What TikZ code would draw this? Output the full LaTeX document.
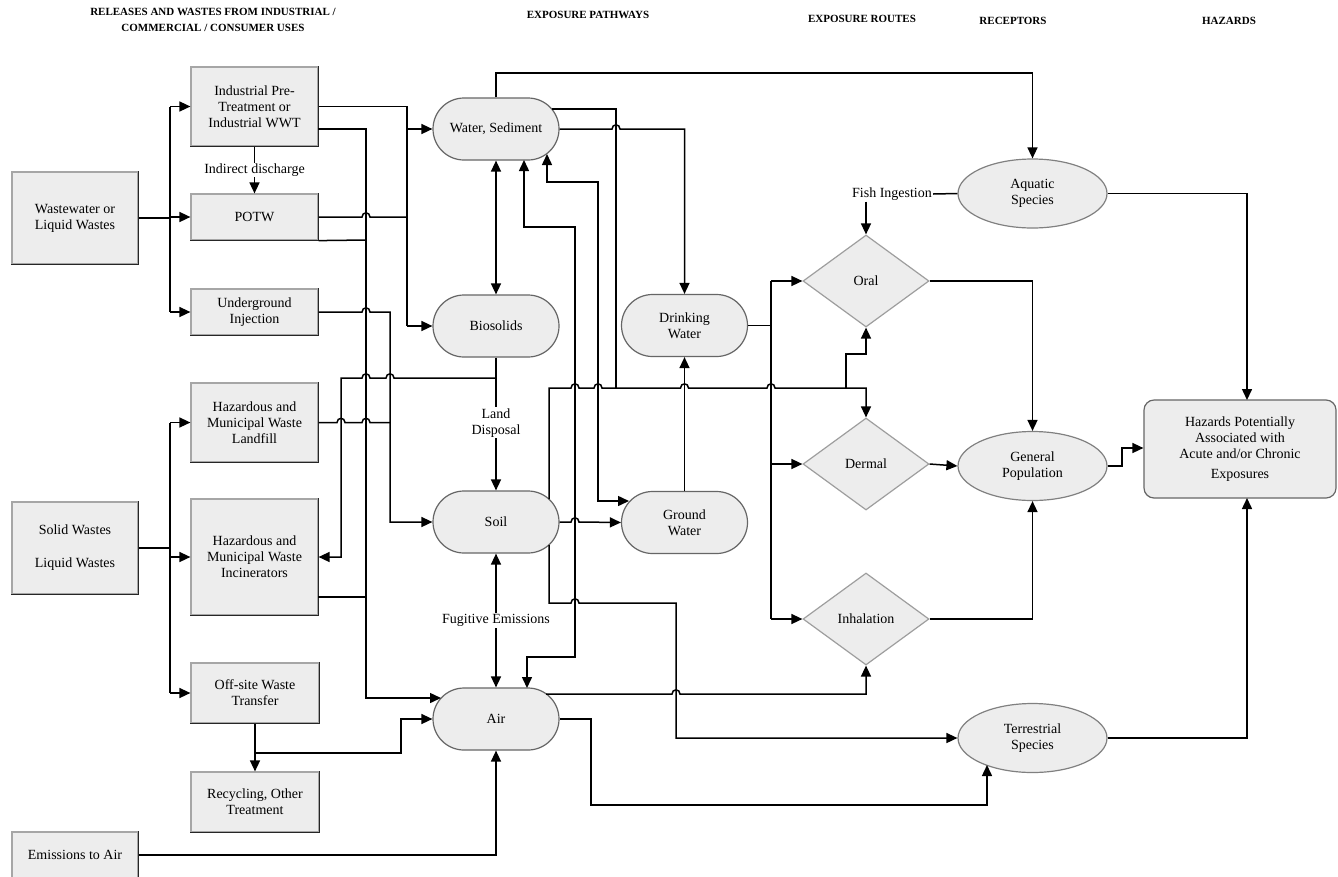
\documentclass[tikz,border=0pt]{standalone}
\usepackage{fontspec}
\setmainfont{Liberation Serif}
\usetikzlibrary{arrows.meta,shapes.misc,shapes.geometric,calc}
\begin{document}
\begin{tikzpicture}[x=1pt,y=-1pt,
  txt/.style={font=\fontsize{14}{16}\selectfont, align=center, text=black},
  boxsty/.style={txt, rectangle, fill=black!7, draw=black!35, line width=1.2pt, inner sep=0pt},
  pill/.style={txt, rounded rectangle, fill=black!7, draw=black!60, line width=1.2pt, minimum width=126pt, minimum height=62pt, inner sep=0pt},
  dia/.style={txt, diamond, fill=black!7, draw=black!38, line width=1.2pt, minimum width=126pt, minimum height=92pt, inner sep=0pt},
  ell/.style={txt, ellipse, fill=black!7, draw=black!50, line width=1.2pt, minimum width=149pt, minimum height=69pt, inner sep=0pt},
  lbl/.style={txt, fill=white, inner sep=1pt},
  head/.style={font=\fontsize{11}{16}\selectfont\bfseries, align=center},
  arr/.style={-{Triangle[length=11pt,width=10pt]}},
  darr/.style={{Triangle[length=11pt,width=10pt]}-{Triangle[length=11pt,width=10pt]}},
  conn/.style={line width=1.5pt, black},
  hopr/.style args={#1,#2}{insert path={-- (#1-4,#2) .. controls (#1-4,#2-5.5) and (#1+4,#2-5.5) .. (#1+4,#2)}},
  hopl/.style args={#1,#2}{insert path={-- (#1+4,#2) .. controls (#1+4,#2-5.5) and (#1-4,#2-5.5) .. (#1-4,#2)}},
]
\useasboundingbox (0,0) rectangle (1338,876);
\fill[white] (0,0) rectangle (1338,876);

% headings
\node[head] (h1) at (213,20) {RELEASES AND WASTES FROM INDUSTRIAL /\\COMMERCIAL / CONSUMER USES};
\node[head] (h2) at (588,15) {EXPOSURE PATHWAYS};
\node[head] (h3) at (862,19) {EXPOSURE ROUTES};
\node[head] (h4) at (1013,21) {RECEPTORS};
\node[head] (h5) at (1229,21) {HAZARDS};

% source boxes
\node[boxsty, minimum width=126pt, minimum height=92pt] (ww) at (75,218) {Wastewater or\\Liquid Wastes};
\node[boxsty, minimum width=127pt, minimum height=79pt] (ipt) at (254.5,106.5) {Industrial Pre-\\Treatment or\\Industrial WWT};
\node[boxsty, minimum width=127pt, minimum height=46pt] (potw) at (254.5,217) {POTW};
\node[boxsty, minimum width=127pt, minimum height=46pt] (ui) at (254.5,312) {Underground\\Injection};
\node[boxsty, minimum width=127pt, minimum height=79pt] (lf) at (254.5,422.5) {Hazardous and\\Municipal Waste\\Landfill};
\node[boxsty, minimum width=127pt, minimum height=116pt] (inc) at (254.5,557) {Hazardous and\\Municipal Waste\\Incinerators};
\node[boxsty, minimum width=126pt, minimum height=92pt] (sw) at (75,548) {Solid Wastes\\[17pt]Liquid Wastes};
\node[boxsty, minimum width=128pt, minimum height=60pt] (off) at (255,693) {Off-site Waste\\Transfer};
\node[boxsty, minimum width=128pt, minimum height=60pt] (rec) at (255,802) {Recycling, Other\\Treatment};
\node[boxsty, minimum width=126pt, minimum height=46pt] (ema) at (75,855) {Emissions to Air};
\foreach \n in {ww,ipt,potw,ui,lf,inc,sw,off,rec,ema}
  \draw[black!85,line width=1.2pt] (\n.north east) -- (\n.south east) -- (\n.south west);

% pathways
\node[pill] (ws) at (496,129) {Water, Sediment};
\node[pill] (bio) at (496,326) {Biosolids};
\node[pill] (soil) at (496,522) {Soil};
\node[pill] (air) at (496,719) {Air};
\node[pill] (dw) at (684.5,325.5) {Drinking\\Water};
\node[pill] (gw) at (684.5,522.5) {Ground\\Water};

% routes
\node[dia] (oral) at (866,281) {Oral};
\node[dia] (derm) at (866,464) {Dermal};
\node[dia] (inh) at (866,619) {Inhalation};

% receptors
\node[ell] (aq) at (1032.5,193.5) {Aquatic\\Species};
\node[ell] (gp) at (1032.5,466) {General\\Population};
\node[ell] (ter) at (1032.5,738) {Terrestrial\\Species};

% hazards
\node[txt, rectangle, rounded corners=10pt, fill=black!7, draw=black!60, line width=1.2pt, minimum width=192pt, minimum height=98pt, inner sep=0pt] (haz) at (1240,449) {Hazards Potentially\\Associated with\\Acute and/or Chronic\\[4pt]Exposures};

% ---- connectors ----
\coordinate (wt) at (170,0);
\draw[conn] (ww.east) -- (wt |- ww.east);
\draw[conn] (wt |- ipt.west) -- (wt |- ui.west);
\draw[conn,arr] (wt |- ipt.west) -- (ipt.west);
\draw[conn,arr] (wt |- potw.west) -- (potw.west);
\draw[conn,arr] (wt |- ui.west) -- (ui.west);

\draw[conn,arr] (ipt.south) -- (potw.north) node[lbl, midway] {Indirect discharge};

\draw[conn] (ipt.east) -- (407,106.5) -- (407,326);
\draw[conn,arr] (407,129) -- (ws.west);
\draw[conn,arr] (407,326) -- (bio.west);

\draw[conn,arr] (318,129) -- (366,129) -- (366,698) -- (441,698);
\draw[conn] (potw.east) [hopr={366,217}] -- (407,217);
\draw[conn] (potw.south east) -- (366,240);
\draw[conn,arr] (ui.east) [hopr={366,312}] -- (390,312) -- (390,522) -- (soil.west);
\draw[conn] (lf.east) [hopr={341,422.5}] [hopr={366,422.5}] -- (390,422.5);

\draw[conn,arr] (bio.south) -- (soil.north) node[lbl, pos=0.49] {Land\\Disposal};
\draw[conn,arr] (496,378) [hopl={390,378}] [hopl={366,378}] -- (341,378) -- (341,557) -- (inc.east);
\draw[conn] (318,597) -- (366,597);

\draw[conn,darr] (ws.south) -- (bio.north);
\draw[conn,darr] (soil.south) -- (air.north) node[lbl, midway] {Fugitive Emissions};

\draw[conn,arr] (off.south) -- (rec.north);
\draw[conn,arr] (255,753) -- (401,753) -- (401,719) -- (air.west);
\draw[conn,arr] (ema.east) -- (496,855) -- (air.south);

\draw[conn] (sw.east) -- (wt |- sw.east);
\draw[conn] (wt |- lf.west) -- (wt |- off.west);
\draw[conn,arr] (wt |- lf.west) -- (lf.west);
\draw[conn,arr] (wt |- inc.west) -- (inc.west);
\draw[conn,arr] (wt |- off.west) -- (off.west);

\draw[conn,arr] (ws.north) -- (496,73) -- (1032.5,73) -- (aq.north);
\draw[conn] (552,109) -- (616,109) -- (616,388);
\draw[conn,arr] (ws.east) [hopr={616,129}] -- (684.5,129) -- (dw.north);
\draw[conn,arr] (549,499) -- (549,388) [hopr={575,388}] [hopr={598,388}] [hopr={684.5,388}] [hopr={771,388}] -- (866,388) -- (derm.north);
\draw[conn,arr] (846,388) -- (846,354) -- (866,354) -- (oral.south);
\draw[conn,arr] (549,545) -- (549,603) [hopr={575,603}] -- (676,603) -- (676,738) -- (ter.west);
\draw[conn,arr] (soil.east) [hopr={575,522}] -- (gw.west);
\draw[conn,darr] (524,160) -- (524,227) -- (575,227) -- (575,657) -- (527,657) -- (527,688);
\draw[conn,darr] (547,154) -- (547,182) -- (598,182) -- (598,501) -- (629,501);
\draw[conn,arr] (gw.north) -- (dw.south);

\draw[conn] (dw.east) -- (771,325.5);
\draw[conn] (771,281) -- (771,619);
\draw[conn,arr] (771,281) -- (oral.west);
\draw[conn,arr] (771,464) -- (derm.west);
\draw[conn,arr] (771,619) -- (inh.west);

\draw[conn,arr] (546,694) [hopr={676,694}] -- (866,694) -- (inh.south);
\draw[conn,arr] (air.east) -- (591,719) -- (591,805) -- (987,805) -- (987,765);

\draw[conn,arr] (oral.east) -- (1032.5,281) -- (gp.north);
\draw[conn,arr] (derm.east) -- (gp.west);
\draw[conn,arr] (inh.east) -- (1032.5,619) -- (gp.south);

\draw[conn,arr] (aq.east) -- (1247,193.5) -- (1247,400);
\draw[conn,arr] (gp.east) -- (1122,466) -- (1122,448) -- (haz.west |- 0,448);
\draw[conn,arr] (ter.east) -- (1247,738) -- (1247,498);

\node[txt, inner sep=1pt] (fish) at (892,194) {Fish Ingestion};
\draw[conn] (aq.west) -- (fish.east);
\draw[conn,arr] (fish.south -| oral.north) -- (oral.north);
\end{tikzpicture}
\end{document}
